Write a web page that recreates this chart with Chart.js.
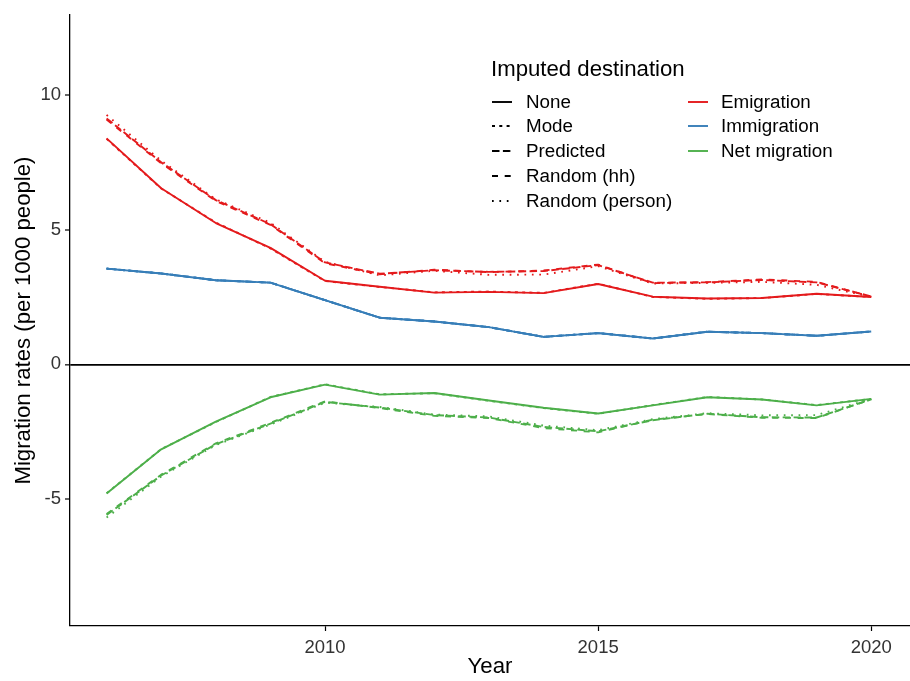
<!DOCTYPE html>
<html>
<head>
<meta charset="utf-8">
<title>Migration rates by imputed destination</title>
<script src="https://cdn.jsdelivr.net/npm/chart.js@4.4.1/dist/chart.umd.min.js"></script>
<style>
  html, body { margin: 0; padding: 0; background: #fff; }
  #wrap { position: relative; width: 910px; height: 681px; font-family: "Liberation Sans", Arial, Helvetica, sans-serif; }
  #c { position: absolute; left: 0; top: 0; }
  #legend { position: absolute; left: 0; top: 0; width: 910px; height: 681px; pointer-events: none; }
  .lg-title { position: absolute; font-size: 22.2px; line-height: 26px; color: #000; white-space: nowrap; }
  .lg-text { position: absolute; font-size: 18.8px; line-height: 24px; color: #000; white-space: nowrap; }
  .lg-key { position: absolute; }
</style>
</head>
<body>
<div id="wrap">
  <canvas id="c" width="910" height="681"></canvas>
  <div id="legend"></div>
</div>
<script>
// ---- data ---------------------------------------------------------------
const years = [2006, 2007, 2008, 2009, 2010, 2011, 2012, 2013, 2014, 2015, 2016, 2017, 2018, 2019, 2020];
const xTicks = [2010, 2015, 2020];
const yTicks = [-5, 0, 5, 10];

const imputations = ['None', 'Mode', 'Predicted', 'Random (hh)', 'Random (person)'];
const flows = ['Emigration', 'Immigration', 'Net migration'];

// Emigration rate per 1000 people
const emigNone      = [8.38, 6.53, 5.24, 4.32, 3.10, 2.88, 2.66, 2.69, 2.64, 2.98, 2.51, 2.44, 2.46, 2.62, 2.50];
const emigMode      = [8.36, 6.52, 5.26, 4.30, 3.09, 2.87, 2.67, 2.70, 2.65, 2.99, 2.50, 2.43, 2.46, 2.61, 2.50];
const emigPredicted = [9.12, 7.49, 6.09, 5.20, 3.78, 3.36, 3.49, 3.43, 3.46, 3.68, 3.03, 3.04, 3.13, 3.04, 2.52];
const emigRandHh    = [9.08, 7.46, 6.06, 5.17, 3.75, 3.34, 3.51, 3.42, 3.48, 3.70, 3.01, 3.05, 3.15, 3.06, 2.51];
const emigRandPer   = [9.25, 7.55, 6.12, 5.25, 3.80, 3.30, 3.47, 3.32, 3.33, 3.64, 3.00, 3.02, 3.06, 2.95, 2.50];

// Immigration rate per 1000 people (not affected by destination imputation)
const immigAll      = [3.55, 3.37, 3.12, 3.03, 2.38, 1.73, 1.59, 1.38, 1.02, 1.16, 0.96, 1.21, 1.16, 1.06, 1.22];

// Net migration rate per 1000 people
const netNone       = [-4.79, -3.15, -2.12, -1.22, -0.75, -1.12, -1.06, -1.34, -1.61, -1.82, -1.52, -1.22, -1.30, -1.52, -1.28];
const netMode       = [-4.78, -3.14, -2.14, -1.21, -0.74, -1.11, -1.07, -1.35, -1.62, -1.83, -1.51, -1.21, -1.30, -1.51, -1.28];
const netPredicted  = [-5.58, -4.12, -2.96, -2.20, -1.39, -1.60, -1.88, -1.97, -2.32, -2.48, -2.07, -1.83, -1.96, -1.97, -1.30];
const netRandHh     = [-5.55, -4.09, -2.93, -2.17, -1.37, -1.62, -1.91, -1.99, -2.36, -2.52, -2.05, -1.84, -1.98, -1.99, -1.29];
const netRandPer    = [-5.68, -4.16, -2.99, -2.23, -1.42, -1.58, -1.86, -1.93, -2.27, -2.44, -2.03, -1.81, -1.89, -1.88, -1.28];

const seriesValues = {
  'Emigration':    [emigNone, emigMode, emigPredicted, emigRandHh, emigRandPer],
  'Immigration':   [immigAll, immigAll, immigAll, immigAll, immigAll],
  'Net migration': [netNone, netMode, netPredicted, netRandHh, netRandPer]
};

// ---- styles -------------------------------------------------------------
const flowColors = { 'Emigration': '#E41A1C', 'Immigration': '#377EB8', 'Net migration': '#4DAF4A' };
const dashByImputation = {
  'None': [],
  'Mode': [3, 4.3],
  'Predicted': [7.5, 3.4],
  'Random (hh)': [6, 6.7],
  'Random (person)': [1.7, 5.7]
};
const LINE_W = 1.9;

// ---- datasets -----------------------------------------------------------
const datasets = [];
flows.forEach(flow => {
  imputations.forEach((imp, k) => {
    const vals = seriesValues[flow][k];
    datasets.push({
      label: flow + ' / ' + imp,
      data: years.map((yr, i) => ({ x: yr, y: vals[i] })),
      borderColor: flowColors[flow],
      backgroundColor: flowColors[flow],
      borderWidth: LINE_W,
      borderDash: dashByImputation[imp],
      borderCapStyle: 'butt',
      borderJoinStyle: 'round',
      pointRadius: 0,
      pointHoverRadius: 0,
      fill: false,
      tension: 0
    });
  });
});

const FONT = '"Liberation Sans", Arial, Helvetica, sans-serif';

new Chart(document.getElementById('c'), {
  type: 'line',
  data: { datasets },
  options: {
    responsive: false,
    animation: false,
    devicePixelRatio: 1,
    layout: { padding: { top: 12, right: 0, left: 0, bottom: 0 } },
    plugins: { legend: { display: false }, tooltip: { enabled: false } },
    scales: {
      x: {
        type: 'linear',
        min: 2005.33,
        max: 2020.71,
        afterBuildTicks: s => { s.ticks = xTicks.map(v => ({ value: v })); },
        afterFit: s => { s.height = 55; },
        ticks: {
          callback: v => String(v),
          font: { family: FONT, size: 18.5 },
          color: '#333',
          padding: 6,
          maxRotation: 0
        },
        grid: {
          display: true,
          drawOnChartArea: false,
          drawTicks: true,
          tickLength: 5,
          tickColor: '#000',
          tickWidth: 1.2
        },
        border: { display: true, color: '#000', width: 1.3 },
        title: {
          display: true,
          text: 'Year',
          font: { family: FONT, size: 22.2 },
          color: '#000',
          padding: { top: 0, bottom: 1 }
        }
      },
      y: {
        type: 'linear',
        min: -9.7,
        max: 12.95,
        afterBuildTicks: s => { s.ticks = yTicks.map(v => ({ value: v })); },
        afterFit: s => { s.width = 70; },
        ticks: {
          callback: v => String(v),
          font: { family: FONT, size: 18.5 },
          color: '#333',
          padding: 4
        },
        grid: {
          display: true,
          drawOnChartArea: true,
          drawTicks: true,
          tickLength: 5,
          tickColor: '#000',
          tickWidth: 1.2,
          color: ctx => (ctx.tick && ctx.tick.value === 0) ? '#000' : 'rgba(0,0,0,0)',
          lineWidth: ctx => (ctx.tick && ctx.tick.value === 0) ? 1.7 : 0
        },
        border: { display: true, color: '#000', width: 1.3 },
        title: {
          display: true,
          text: 'Migration rates (per 1000 people)',
          font: { family: FONT, size: 22.2 },
          color: '#000',
          padding: { top: 10.5, bottom: 0 }
        }
      }
    }
  }
});

// ---- legend -------------------------------------------------------------
(function buildLegend() {
  const box = document.getElementById('legend');
  const title = document.createElement('div');
  title.className = 'lg-title';
  title.textContent = 'Imputed destination';
  title.style.left = '491px';
  title.style.top = (69 - 13) + 'px';
  box.appendChild(title);

  const rowY0 = 101.5, rowStep = 24.8;

  function addKey(x, yc, color, dash) {
    const svgNS = 'http://www.w3.org/2000/svg';
    const svg = document.createElementNS(svgNS, 'svg');
    svg.setAttribute('width', '22');
    svg.setAttribute('height', '6');
    svg.setAttribute('class', 'lg-key');
    svg.style.left = x + 'px';
    svg.style.top = (yc - 3) + 'px';
    const ln = document.createElementNS(svgNS, 'line');
    ln.setAttribute('x1', '1'); ln.setAttribute('x2', '21');
    ln.setAttribute('y1', '3'); ln.setAttribute('y2', '3');
    ln.setAttribute('stroke', color);
    ln.setAttribute('stroke-width', String(LINE_W));
    if (dash.length) ln.setAttribute('stroke-dasharray', dash.join(' '));
    svg.appendChild(ln);
    box.appendChild(svg);
  }
  function addText(x, yc, txt) {
    const d = document.createElement('div');
    d.className = 'lg-text';
    d.textContent = txt;
    d.style.left = x + 'px';
    d.style.top = (yc - 12) + 'px';
    box.appendChild(d);
  }

  imputations.forEach((imp, i) => {
    const yc = rowY0 + i * rowStep;
    addKey(491, yc, '#000', dashByImputation[imp]);
    addText(526, yc, imp);
  });
  flows.forEach((flow, i) => {
    const yc = rowY0 + i * rowStep;
    addKey(687, yc, flowColors[flow], []);
    addText(721, yc, flow);
  });
})();
</script>
</body>
</html>
